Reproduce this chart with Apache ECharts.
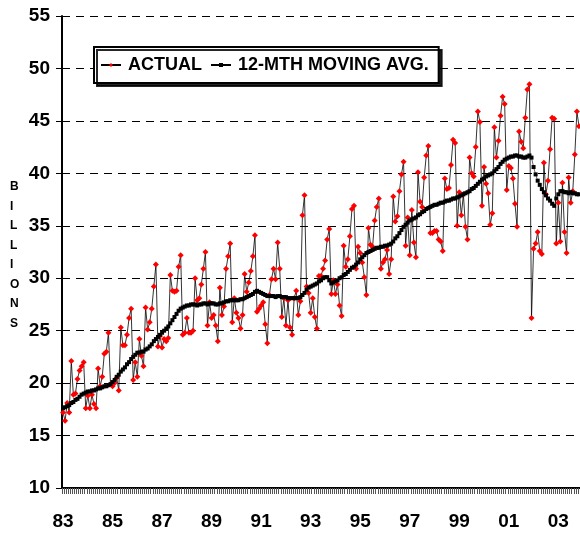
<!DOCTYPE html>
<html>
<head>
<meta charset="utf-8">
<script src="https://cdn.jsdelivr.net/npm/echarts@6/dist/echarts.min.js"></script>
<style>
html,body{margin:0;padding:0;background:#fff;overflow:hidden;}
#chart{width:580px;height:536px;}
</style>
</head>
<body>
<div id="chart"></div>
<script>
// First month of data: January 1983; monthly values through late 2003
var startYear = 1983;
var yearTickLabels = ['83','85','87','89','91','93','95','97','99','01','03'];

var actual = [
  17.2, 16.4, 18.1, 17.2, 22.1, 18.9, 19.0, 20.4, 21.2, 21.6, 22.0, 17.6,
  18.8, 17.6, 18.9, 18.0, 17.6, 21.4, 19.7, 20.6, 22.8, 23.0, 24.8, 19.9,
  19.7, 20.0, 20.5, 19.3, 25.3, 23.6, 23.6, 24.6, 26.2, 27.1, 20.3, 22.0,
  20.6, 24.2, 22.6, 21.6, 27.2, 25.1, 25.8, 27.1, 29.2, 31.3, 23.5, 24.5,
  23.4, 24.2, 24.0, 24.3, 30.3, 28.8, 28.7, 28.8, 31.1, 32.2, 24.6, 24.8,
  26.2, 24.8, 24.8, 25.0, 30.0, 27.9, 28.1, 29.4, 30.9, 32.5, 25.5, 27.7,
  26.2, 26.5, 25.5, 24.0, 29.1, 26.5, 27.3, 30.9, 32.1, 33.3, 25.8, 28.1,
  26.7, 26.2, 25.2, 26.5, 30.4, 28.7, 29.6, 30.7, 32.1, 34.1, 26.8, 27.1,
  27.4, 27.7, 25.6, 23.8, 28.4, 29.9, 30.9, 29.9, 33.4, 30.9, 26.3, 28.1,
  25.5, 27.9, 25.3, 24.6, 28.1, 28.8, 26.5, 27.8, 36.0, 37.9, 29.2, 28.6,
  26.7, 28.1, 26.3, 25.2, 30.2, 30.2, 30.9, 31.7, 33.7, 34.7, 28.5, 29.8,
  28.5, 29.4, 27.4, 26.4, 33.1, 31.1, 31.8, 34.0, 36.6, 36.9, 30.9, 33.0,
  32.4, 31.5, 30.1, 28.4, 34.8, 33.2, 33.0, 35.5, 36.8, 37.6, 30.9, 31.5,
  31.8, 32.7, 30.4, 31.8, 37.8, 35.4, 35.9, 38.3, 39.9, 41.1, 33.1, 35.8,
  32.2, 36.5, 33.4, 32.0, 40.1, 37.3, 36.8, 39.6, 41.7, 42.6, 34.3, 34.3,
  34.5, 34.5, 33.7, 33.5, 32.6, 39.5, 38.5, 38.6, 40.8, 43.2, 42.9, 35.0,
  38.2, 36.0, 38.0, 34.9, 33.7, 41.5, 40.0, 39.7, 42.5, 45.9, 44.9, 36.9,
  40.6, 39.0, 38.1, 35.1, 36.2, 44.4, 41.5, 43.1, 45.5, 47.3, 46.6, 38.4,
  40.7, 40.5, 39.5, 37.1, 34.9, 44.0, 43.0, 42.4, 45.3, 48.0, 48.5, 26.2,
  32.8, 33.3, 34.4, 32.6, 32.3, 41.0, 38.0, 39.3, 42.3, 45.3, 45.2, 33.3,
  37.2, 33.5, 39.1, 34.4, 32.4, 39.6, 37.2, 38.3, 41.8, 45.9, 44.5
];

var movingAvg = [
  17.6, 17.7, 17.8, 17.9, 18.1, 18.2, 18.4, 18.5, 18.7, 18.9, 19.0, 19.1,
  19.2, 19.2, 19.3, 19.3, 19.4, 19.5, 19.5, 19.6, 19.7, 19.7, 19.8, 19.9,
  20.1, 20.3, 20.6, 20.8, 21.1, 21.3, 21.5, 21.8, 22.0, 22.3, 22.5, 22.7,
  22.9, 22.9, 23.0, 23.0, 23.2, 23.3, 23.5, 23.7, 24.0, 24.2, 24.4, 24.6,
  24.8, 25.0, 25.2, 25.4, 25.7, 26.0, 26.3, 26.6, 26.9, 27.1, 27.2, 27.3,
  27.4, 27.4, 27.5, 27.5, 27.5, 27.4, 27.5, 27.5, 27.6, 27.6, 27.5, 27.6,
  27.6, 27.6, 27.5, 27.5, 27.6, 27.6, 27.7, 27.8, 27.8, 27.9, 27.9, 27.9,
  27.9, 27.9, 28.0, 28.0, 28.1, 28.2, 28.3, 28.4, 28.5, 28.7, 28.8, 28.7,
  28.6, 28.5, 28.4, 28.3, 28.3, 28.3, 28.3, 28.2, 28.3, 28.3, 28.2, 28.2,
  28.2, 28.1, 28.1, 28.1, 28.1, 28.1, 28.1, 28.2, 28.4, 28.6, 28.9, 29.1,
  29.2, 29.3, 29.4, 29.5, 29.7, 29.8, 30.0, 30.1, 30.1, 29.8, 29.5, 29.6,
  29.7, 29.8, 30.0, 30.1, 30.3, 30.4, 30.6, 30.8, 31.0, 31.1, 31.3, 31.5,
  31.8, 32.0, 32.2, 32.4, 32.5, 32.6, 32.7, 32.8, 32.9, 32.9, 33.0, 33.0,
  33.1, 33.1, 33.2, 33.3, 33.5, 33.8, 34.0, 34.3, 34.6, 34.9, 35.1, 35.3,
  35.5, 35.6, 35.7, 35.8, 36.0, 36.1, 36.3, 36.4, 36.6, 36.7, 36.8, 36.9,
  37.0, 37.0, 37.1, 37.2, 37.2, 37.3, 37.4, 37.4, 37.5, 37.6, 37.6, 37.7,
  37.8, 37.9, 38.0, 38.1, 38.2, 38.3, 38.5, 38.6, 38.8, 39.0, 39.2, 39.4,
  39.5, 39.7, 39.8, 39.9, 40.0, 40.2, 40.4, 40.6, 40.9, 41.1, 41.3, 41.4,
  41.5, 41.6, 41.6, 41.7, 41.7, 41.6, 41.6, 41.5, 41.5, 41.6, 41.7, 41.5,
  40.6, 39.9, 39.3, 38.9, 38.5, 38.2, 37.9, 37.6, 37.4, 37.1, 36.9, 37.6,
  38.0, 38.3, 38.3, 38.2, 38.2, 38.1, 38.2, 38.1, 38.1, 38.0, 38.0
];

// month categories "YY-MM"
var months = [];
for (var i = 0; i < actual.length; i++) {
  var y = startYear + Math.floor(i / 12);
  var mm = (i % 12) + 1;
  months.push(String(y).slice(2) + '-' + (mm < 10 ? '0' + mm : mm));
}

var FONT = "'Liberation Sans', Arial, sans-serif";
var chart = echarts.init(document.getElementById('chart'), null, {renderer: 'canvas'});
chart.setOption({
  animation: false,
  backgroundColor: '#fff',
  grid: {left: 62, right: 0, top: 16, bottom: 48, containLabel: false},
  legend: {
    left: 94, top: 47,
    padding: [9, 10, 9, 6],
    itemGap: 8,
    itemWidth: 20, itemHeight: 5,
    backgroundColor: '#fff',
    borderColor: '#000', borderWidth: 2,
    shadowColor: 'rgba(0,0,0,0.85)', shadowBlur: 0, shadowOffsetX: 3, shadowOffsetY: 3,
    textStyle: {fontFamily: FONT, fontWeight: 'bold', fontSize: 18, color: '#000', padding: [0, 0, 0, 2]},
    data: ['ACTUAL', '12-MTH MOVING AVG.']
  },
  xAxis: {
    type: 'category',
    data: months,
    boundaryGap: true,
    axisLine: {show: true, lineStyle: {color: '#000', width: 2}},
    axisTick: {show: true, interval: 0, length: 6, lineStyle: {color: '#555', width: 1}},
    axisLabel: {
      interval: 23,
      margin: 24,
      fontFamily: FONT, fontWeight: 'bold', fontSize: 19, color: '#000',
      formatter: function (v, idx) { return yearTickLabels[Math.round(idx / 24)] || v.slice(0, 2); }
    },
    splitLine: {show: false}
  },
  yAxis: {
    type: 'value',
    min: 10, max: 55, interval: 5,
    axisLine: {show: true, lineStyle: {color: '#000', width: 2}},
    axisTick: {show: true, length: 6, lineStyle: {color: '#000', width: 1}},
    axisLabel: {margin: 12, fontFamily: FONT, fontWeight: 'bold', fontSize: 19, color: '#000'},
    splitLine: {show: true, lineStyle: {color: '#000', width: 1, type: [8, 6]}}
  },
  graphic: [{
    type: 'text',
    left: 10, top: 177,
    style: {
      text: 'B\nI\nL\nL\nI\nO\nN\nS',
      font: "bold 12px 'Liberation Sans', Arial, sans-serif",
      fill: '#000',
      lineHeight: 19.5,
      align: 'center',
      width: 12
    }
  }],
  series: [
    {
      name: 'ACTUAL',
      type: 'line',
      data: actual,
      showAllSymbol: true,
      symbol: 'diamond',
      symbolSize: 6,
      itemStyle: {color: '#ff0000'},
      lineStyle: {color: '#000', width: 0.8},
      z: 2
    },
    {
      name: '12-MTH MOVING AVG.',
      type: 'line',
      data: movingAvg,
      showAllSymbol: true,
      symbol: 'rect',
      symbolSize: 4,
      itemStyle: {color: '#000'},
      lineStyle: {color: '#000', width: 0.6},
      z: 3
    }
  ]
});
</script>
</body>
</html>
